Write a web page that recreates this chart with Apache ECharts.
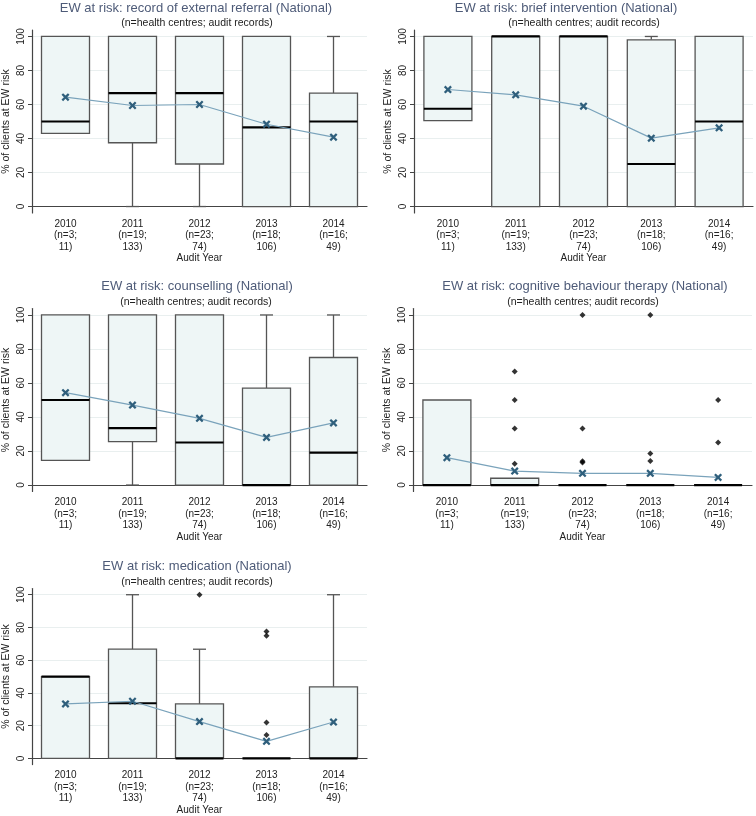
<!DOCTYPE html>
<html>
<head>
<meta charset="utf-8">
<script src="https://cdn.jsdelivr.net/npm/echarts@6/dist/echarts.min.js"></script>
<style>
html,body{margin:0;padding:0;background:#fff;}
#main{width:756px;height:816px;}
</style>
</head>
<body>
<div id="main"></div>
<script>
// ---------- DATA ----------
const categories = ['2010\n(n=3;\n11)', '2011\n(n=19;\n133)', '2012\n(n=23;\n74)', '2013\n(n=18;\n106)', '2014\n(n=16;\n49)'];
const yTicks = [0, 20, 40, 60, 80, 100];

const panelTitles = [
  'EW at risk: record of external referral (National)',
  'EW at risk: brief intervention (National)',
  'EW at risk: counselling (National)',
  'EW at risk: cognitive behaviour therapy (National)',
  'EW at risk: medication (National)'
];
const subtitle = '(n=health centres; audit records)';
const yAxisTitle = '% of clients at EW risk';
const xAxisTitle = 'Audit Year';

// box stats per year: [lower whisker, Q1, median, Q3, upper whisker]
const referralBoxes = [[43, 43, 50, 100, 100], [0, 37.5, 66.7, 100, 100], [0, 25, 66.7, 100, 100], [0, 0, 46.5, 100, 100], [0, 0, 50, 66.7, 100]];
const referralMeans = [64.3, 59.4, 60, 48.4, 40.8];
const referralOutliers = [];

const briefBoxes = [[50.5, 50.5, 57.5, 100, 100], [0, 0, 100, 100, 100], [0, 0, 100, 100, 100], [0, 0, 25, 98, 100], [0, 0, 50, 100, 100]];
const briefMeans = [68.8, 65.7, 59, 40.2, 46.3];
const briefOutliers = [];

const counsellingBoxes = [[14.5, 14.5, 50, 100, 100], [0, 25.5, 33.5, 100, 100], [0, 0, 25, 100, 100], [0, 0, 0, 57, 100], [0, 0, 19, 75, 100]];
const counsellingMeans = [54.3, 47, 39.2, 28, 36.5];
const counsellingOutliers = [];

const cbtBoxes = [[0, 0, 0, 50, 50], [0, 0, 0, 4, 4], [0, 0, 0, 0, 0], [0, 0, 0, 0, 0], [0, 0, 0, 0, 0]];
const cbtMeans = [16.1, 8.2, 6.9, 6.9, 4.5];
// [year index, value]
const cbtOutliers = [[1, 66.7], [1, 50], [1, 33.3], [1, 12.5], [2, 100], [2, 33.3], [2, 14], [2, 13.3], [3, 100], [3, 18.5], [3, 14.2], [4, 50], [4, 25]];

const medicationBoxes = [[0, 0, 50, 50, 50], [0, 0, 33.7, 66.7, 100], [0, 0, 0, 33.3, 66.7], [0, 0, 0, 0, 0], [0, 0, 0, 43.7, 100]];
const medicationMeans = [33.3, 34.9, 22.5, 10.4, 22.2];
const medicationOutliers = [[2, 100], [3, 77.5], [3, 75], [3, 22], [3, 14.3]];

const panels = [
  { boxes: referralBoxes, means: referralMeans, outliers: referralOutliers },
  { boxes: briefBoxes, means: briefMeans, outliers: briefOutliers },
  { boxes: counsellingBoxes, means: counsellingMeans, outliers: counsellingOutliers },
  { boxes: cbtBoxes, means: cbtMeans, outliers: cbtOutliers },
  { boxes: medicationBoxes, means: medicationMeans, outliers: medicationOutliers }
];

// ---------- LAYOUT ----------
const gridPos = [
  { left: 28, top: 30 },
  { left: 414, top: 30 },
  { left: 28, top: 308.5 },
  { left: 413, top: 308.5 },
  { left: 28, top: 588.5 }
];
const titlePos = [
  { tx: 196, ty: 8, sx: 197, sy: 23 },
  { tx: 566, ty: 8, sx: 584, sy: 23 },
  { tx: 197, ty: 286, sx: 196, sy: 302 },
  { tx: 585, ty: 286, sx: 583, sy: 302 },
  { tx: 197, ty: 566, sx: 197, sy: 582 }
];
const FONT = 'Liberation Sans, Arial, sans-serif';
const GRID_W = 339, GRID_H = 183;

const chart = echarts.init(document.getElementById('main'), null, { renderer: 'canvas' });

const grids = [], xAxes = [], yAxes = [], series = [], graphics = [];

function boxRender(params, api) {
  const idx = api.value(0);
  const lo = api.value(1), q1 = api.value(2), med = api.value(3), q3 = api.value(4), hi = api.value(5);
  const cx = api.coord([idx, 0])[0];
  const yLo = api.coord([idx, lo])[1];
  const yQ1 = api.coord([idx, q1])[1];
  const yMed = api.coord([idx, med])[1];
  const yQ3 = api.coord([idx, q3])[1];
  const yHi = api.coord([idx, hi])[1];
  const hw = 24, cw = 6.5;
  const stroke = '#555';
  const children = [];
  if (hi > q3) {
    children.push({ type: 'line', shape: { x1: cx, y1: yQ3, x2: cx, y2: yHi }, style: { stroke: stroke, lineWidth: 1.3 } });
    children.push({ type: 'line', shape: { x1: cx - cw, y1: yHi, x2: cx + cw, y2: yHi }, style: { stroke: stroke, lineWidth: 1.3 } });
  }
  if (lo < q1) {
    children.push({ type: 'line', shape: { x1: cx, y1: yQ1, x2: cx, y2: yLo }, style: { stroke: stroke, lineWidth: 1.3 } });
    children.push({ type: 'line', shape: { x1: cx - cw, y1: yLo, x2: cx + cw, y2: yLo }, style: { stroke: stroke, lineWidth: 1.3 } });
  }
  children.push({ type: 'rect', shape: { x: cx - hw, y: yQ3, width: hw * 2, height: yQ1 - yQ3 }, style: { fill: '#eef6f6', stroke: stroke, lineWidth: 1.3 } });
  children.push({ type: 'line', shape: { x1: cx - hw, y1: yMed, x2: cx + hw, y2: yMed }, style: { stroke: '#000', lineWidth: 2.2 } });
  return { type: 'group', children: children };
}

const xMark = 'path://M2,0 L5,3 L8,0 L10,2 L7,5 L10,8 L8,10 L5,7 L2,10 L0,8 L3,5 L0,2 Z';

panels.forEach(function (p, i) {
  grids.push({ left: gridPos[i].left, top: gridPos[i].top, width: GRID_W, height: GRID_H, containLabel: false });
  xAxes.push({
    type: 'category', gridIndex: i, data: categories,
    axisLine: { lineStyle: { color: '#444', width: 1.2 } },
    axisTick: { alignWithLabel: true, length: 3, lineStyle: { color: '#444' } },
    axisLabel: { fontSize: 10, lineHeight: 11.5, margin: 5, color: '#222', fontFamily: FONT, interval: 0 },
    name: xAxisTitle, nameLocation: 'middle', nameGap: 33,
    nameTextStyle: { fontSize: 10, color: '#222', fontFamily: FONT },
    splitLine: { show: false }
  });
  yAxes.push({
    type: 'value', gridIndex: i, min: -3.8, max: 103.8,
    axisLine: { show: true, lineStyle: { color: '#444', width: 1.2 } },
    axisTick: { show: true, length: 4, customValues: yTicks, lineStyle: { color: '#444' } },
    axisLabel: { customValues: yTicks, rotate: 90, fontSize: 10, margin: 6, color: '#222', fontFamily: FONT },
    splitLine: { show: true, lineStyle: { color: '#e9efef', width: 1 } },
    name: yAxisTitle, nameLocation: 'middle', nameGap: 20,
    nameTextStyle: { fontSize: 10.5, color: '#222', fontFamily: FONT }
  });
  series.push({
    type: 'custom', xAxisIndex: i, yAxisIndex: i,
    renderItem: boxRender,
    encode: { x: 0, y: [1, 2, 3, 4, 5] },
    data: p.boxes.map(function (b, k) { return [k].concat(b); }),
    z: 2, silent: true
  });
  series.push({
    type: 'line', xAxisIndex: i, yAxisIndex: i,
    data: p.means,
    symbol: xMark, symbolSize: 8, showAllSymbol: true,
    lineStyle: { color: '#7aa3bb', width: 1.2 },
    itemStyle: { color: '#2f5f7c' },
    z: 4, silent: true, animation: false
  });
  if (p.outliers.length) {
    series.push({
      type: 'scatter', xAxisIndex: i, yAxisIndex: i,
      data: p.outliers,
      symbol: 'diamond', symbolSize: 6,
      itemStyle: { color: '#000' },
      z: 5, silent: true
    });
  }
  graphics.push({
    type: 'text', x: titlePos[i].tx, y: titlePos[i].ty,
    style: { text: panelTitles[i], align: 'center', verticalAlign: 'middle', textAlign: 'center', textVerticalAlign: 'middle', font: '13px ' + FONT, fill: '#4e5b78' }
  });
  graphics.push({
    type: 'text', x: titlePos[i].sx, y: titlePos[i].sy,
    style: { text: subtitle, align: 'center', verticalAlign: 'middle', textAlign: 'center', textVerticalAlign: 'middle', font: '10.5px ' + FONT, fill: '#222' }
  });
});

chart.setOption({
  animation: false,
  backgroundColor: '#fff',
  grid: grids,
  xAxis: xAxes,
  yAxis: yAxes,
  series: series,
  graphic: graphics
});
</script>
</body>
</html>
